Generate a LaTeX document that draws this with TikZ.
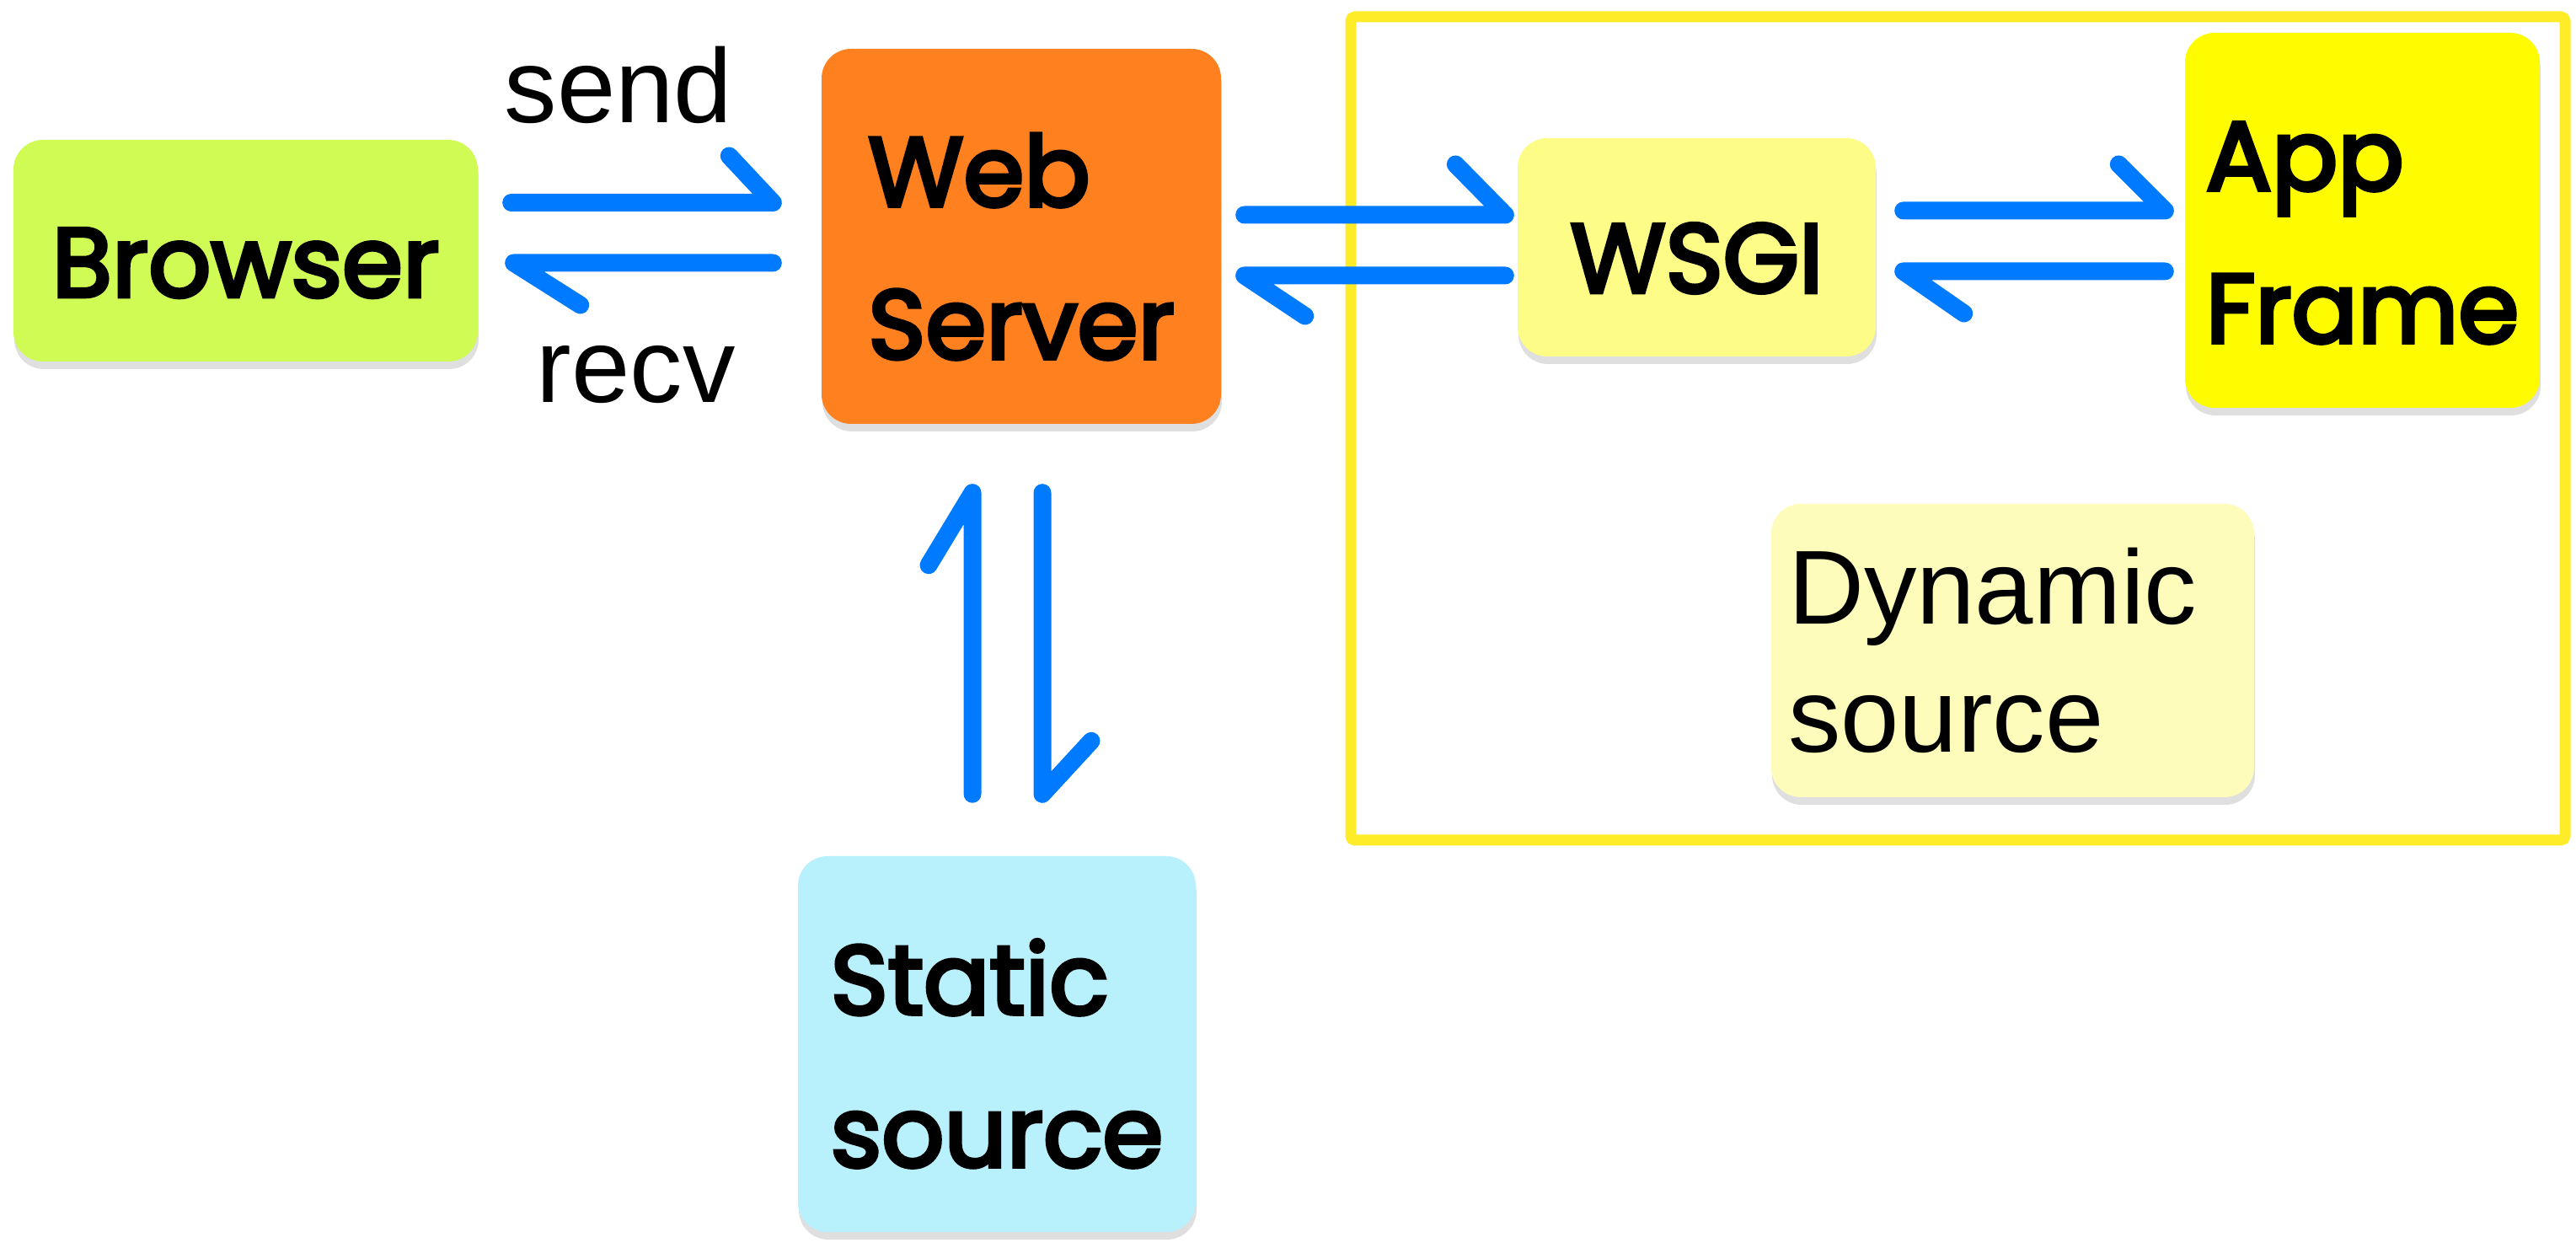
\documentclass[tikz,border=0pt]{standalone}
\usepackage{fontspec}
\setmainfont{Liberation Sans}
\newfontfamily\boxfont{Poppins}[FakeBold=4]
\usetikzlibrary{calc,shadows}
\definecolor{browsergreen}{RGB}{208,251,84}
\definecolor{weborange}{RGB}{255,128,31}
\definecolor{wsgiyellow}{RGB}{252,252,134}
\definecolor{appyellow}{RGB}{255,252,0}
\definecolor{dynyellow}{RGB}{253,252,187}
\definecolor{staticcyan}{RGB}{184,240,251}
\definecolor{arrowblue}{RGB}{0,122,255}
\definecolor{frameyellow}{RGB}{255,236,40}
\newcommand{\topstrut}[1]{\rule{0pt}{#1}}
\newcommand{\botstrut}[1]{\rule[-#1]{0pt}{#1}}
\begin{document}
\begin{tikzpicture}
\useasboundingbox (0,0) rectangle (30.57,14.81);
\tikzset{
  box/.style={rounded corners=0.35cm, inner sep=0pt, align=left,
    font=\boxfont\fontsize{33}{51.5}\selectfont,
    drop shadow={shadow xshift=0.01cm, shadow yshift=-0.09cm, opacity=0.25, fill=black!50}},
  harp/.style={draw=arrowblue, line width=0.21cm, line cap=round, line join=round},
  lbl/.style={font=\fontsize{35.5}{43.5}\selectfont, inner sep=0pt},
  frameline/.style={draw=frameyellow, line width=0.13cm, rounded corners=0.05cm}
}
% dynamic frame
\draw[frameline] (16.03,14.61) rectangle (30.44,4.84);

% boxes
\node[box, fill=browsergreen, minimum width=5.51cm, minimum height=2.63cm] (browser) at (2.915,11.835) {\topstrut{1.19cm}Browser\botstrut{0.1cm}};
\node[box, fill=weborange, minimum width=4.74cm, minimum height=4.45cm] (web) at (12.12,12.005) {\topstrut{1.19cm}Web\\Server\botstrut{0.1cm}};
\node[box, fill=wsgiyellow, minimum width=4.25cm, minimum height=2.59cm] (wsgi) at (20.135,11.875) {\topstrut{1.17cm}WSGI\botstrut{0.1cm}};
\node[box, fill=appyellow, minimum width=4.21cm, minimum height=4.45cm] (app) at (28.035,12.195) {\topstrut{1.19cm}App\\Frame\botstrut{0.1cm}};
\node[box, fill=staticcyan, minimum width=4.72cm, minimum height=4.46cm] (static) at (11.83,2.42) {\topstrut{1.2cm}Static\\source\botstrut{0.1cm}};
\node[box, fill=dynyellow, minimum width=5.73cm, minimum height=3.48cm, inner xsep=0.2cm, text width=5.33cm, font=\fontsize{35.5}{43.5}\selectfont] (dynamic) at (23.885,7.09) {\topstrut{0.99cm}Dynamic\\source\botstrut{0.1cm}};

% labels
\node[lbl, anchor=base west] (send) at (5.98,13.35) {send};
\node[lbl, anchor=base west] (recv) at (6.36,10.03) {recv};

% Browser <-> Web Server
\draw[harp] ($(web.west)+(-1.09,0.955)$) -- ($(web.west)+(-0.57,0.40)$) -- ($(browser.east)+(0.39,0.57)$);
\draw[harp] ($(browser.east)+(1.21,-0.645)$) -- ($(browser.east)+(0.42,-0.145)$) -- ($(web.west)+(-0.57,-0.315)$);

% Web Server <-> WSGI
\draw[harp] ($(wsgi.west)+(-0.73,0.985)$) -- ($(wsgi.west)+(-0.14,0.385)$) -- ($(web.east)+(0.27,0.255)$);
\draw[harp] ($(web.east)+(0.99,-0.945)$) -- ($(web.east)+(0.27,-0.465)$) -- ($(wsgi.west)+(-0.14,-0.335)$);

% WSGI <-> App Frame
\draw[harp] ($(app.west)+(-0.78,0.665)$) -- ($(app.west)+(-0.23,0.115)$) -- ($(wsgi.east)+(0.32,0.435)$);
\draw[harp] ($(wsgi.east)+(1.04,-0.785)$) -- ($(wsgi.east)+(0.32,-0.285)$) -- ($(app.west)+(-0.23,-0.605)$);

% Web Server <-> Static source
\draw[harp] ($(web.south)+(-1.10,-1.67)$) -- ($(web.south)+(-0.58,-0.81)$) -- ($(static.north)+(-0.29,0.73)$);
\draw[harp] ($(static.north)+(1.12,1.36)$) -- ($(static.north)+(0.54,0.73)$) -- ($(web.south)+(0.25,-0.81)$);
\end{tikzpicture}
\end{document}
